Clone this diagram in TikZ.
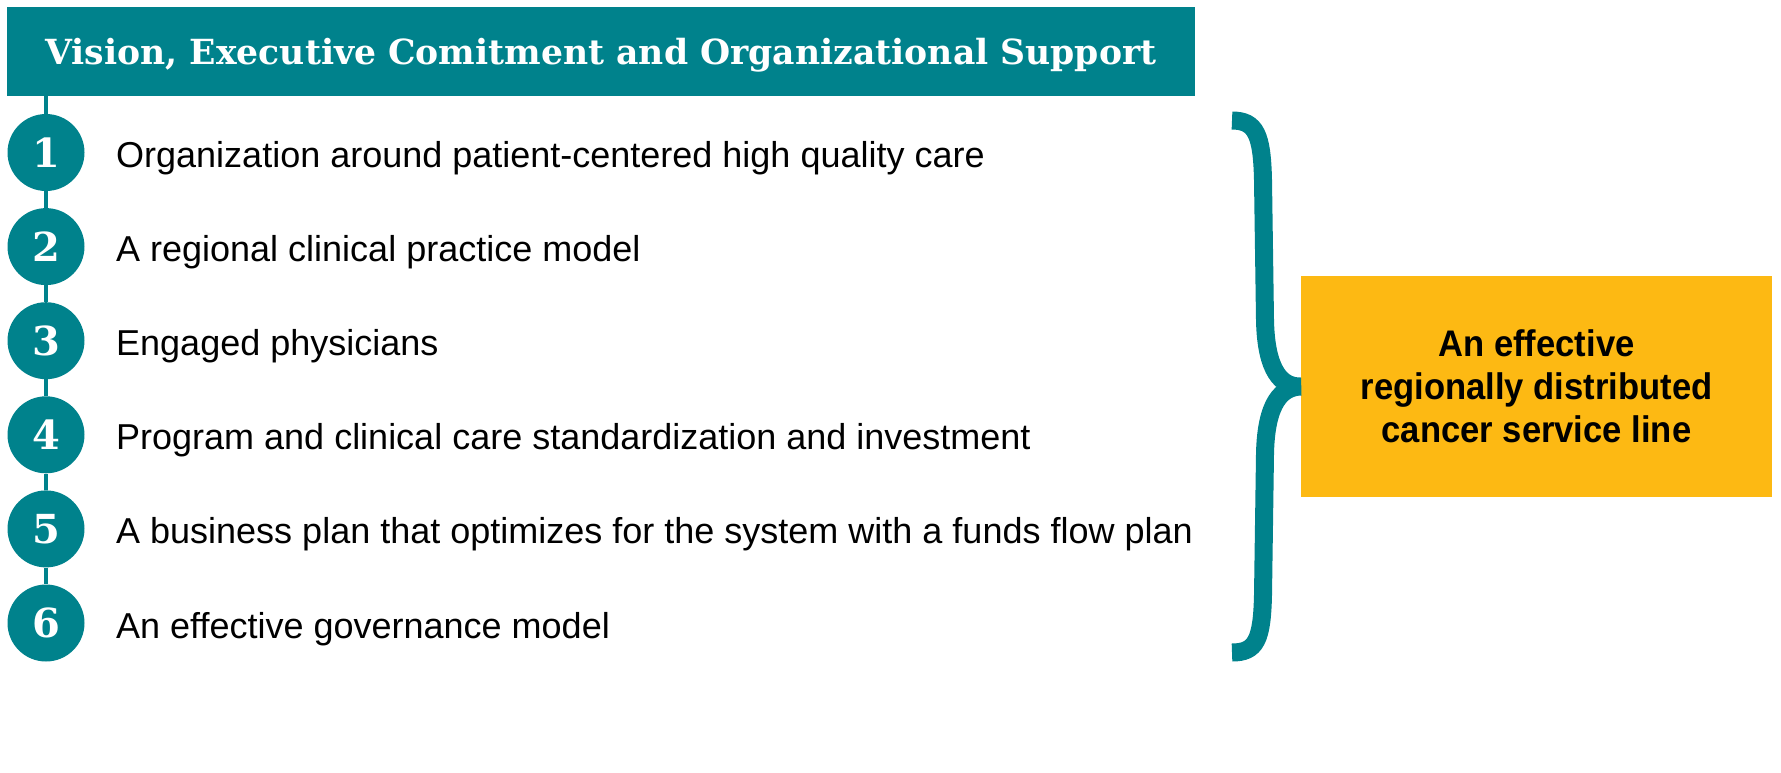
\documentclass[tikz,border=0pt]{standalone}
\usepackage{fontspec}
\setmainfont{Liberation Sans}
\newfontfamily\headfont{DejaVu Serif}
\newfontfamily\boxfont{Liberation Sans}[FakeStretch=0.935]
\definecolor{teal1}{RGB}{0,130,140}
\definecolor{gold1}{RGB}{253,185,19}
\tikzset{
  numcircle/.style={circle, fill=teal1, minimum size=77pt, inner sep=0pt, text=white,
    font=\headfont\bfseries\fontsize{40}{40}\selectfont, text height=29pt, text depth=0pt},
  itemtext/.style={anchor=base west, inner sep=0pt, font=\fontsize{36}{40}\selectfont, text=black},
  linkline/.style={draw=teal1, line width=4pt},
  bracestyle/.style={draw=teal1, line width=18pt, line cap=butt},
}
\begin{document}
\begin{tikzpicture}[x=1pt, y=-1pt]
\useasboundingbox (0,0) rectangle (1781,772);
\node[fill=teal1, minimum width=1188pt, minimum height=89pt, inner sep=0pt, text=white,
  font=\headfont\bfseries\fontsize{34.6}{34.6}\selectfont, text height=25pt, text depth=0pt]
  (header) at (601,51.5) {Vision, Executive Comitment and Organizational Support};
\foreach \i/\t [count=\k from 0] in {1/Organization around patient-centered high quality care,
  2/A regional clinical practice model,
  3/Engaged physicians,
  4/Program and clinical care standardization and investment,
  5/A business plan that optimizes for the system with a funds flow plan,
  6/An effective governance model} {
  \pgfmathsetmacro{\cy}{152.5+94.1*\k}
  \node[numcircle] (c\i) at (46,\cy) {\i};
  \node[itemtext] (t\i) at (116,\cy+15) {\t};
}
\draw[linkline] (c1.north) -- (c1.north |- header.south);
\foreach \a/\b in {1/2,2/3,3/4,4/5,5/6} \draw[linkline] (c\a.south) -- (c\b.north);
\node[fill=gold1, minimum width=471pt, minimum height=221pt, inner sep=0pt, align=center,
  font=\boxfont\bfseries\fontsize{37}{43}\selectfont] (goal) at (1536.5,386.5)
  {An effective\\regionally distributed\\cancer service line};
\coordinate (btop) at (1232,120.5);
\coordinate (bbot) at (1232,652.5);
\draw[bracestyle] (btop) .. controls (1256,120.5) and (1262,135) .. (1263,180)
  -- (1265,320) .. controls (1266,372) and (1282,387) .. (goal.west)
  .. controls (1282,387) and (1266,402) .. (1265,454)
  -- (1263,595) .. controls (1262,640) and (1256,652.5) .. (bbot);
\end{tikzpicture}
\end{document}
